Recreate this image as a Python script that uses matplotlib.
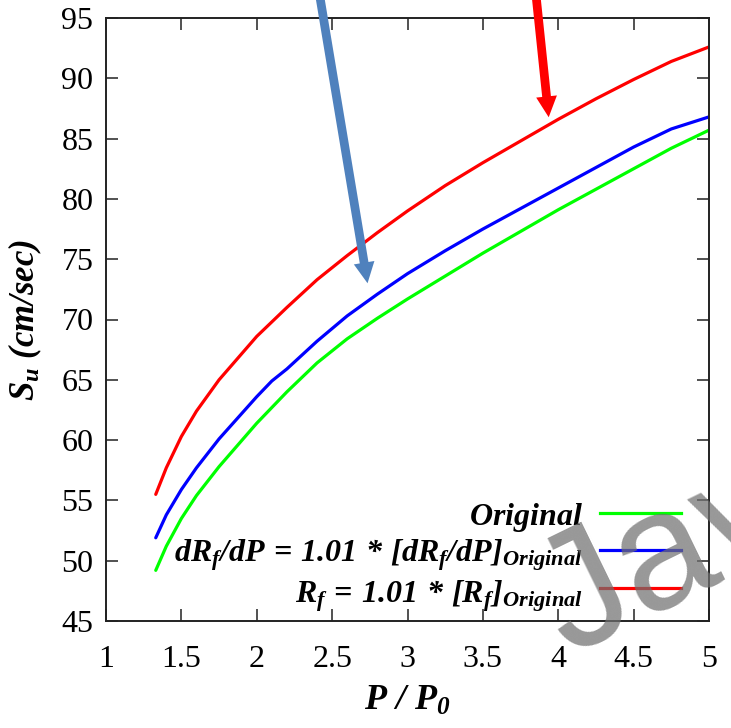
import matplotlib
matplotlib.use("Agg")
import matplotlib.pyplot as plt
from matplotlib.patches import FancyArrowPatch

# Burning velocity vs. pressure ratio
p_ratio = [1.33, 1.40, 1.50, 1.60, 1.75, 2.00, 2.10, 2.20, 2.40, 2.60, 2.80,
           3.00, 3.25, 3.50, 3.75, 4.00, 4.25, 4.50, 4.75, 5.00]

su_original = [49.2, 51.2, 53.5, 55.4, 57.8, 61.4, 62.7, 64.0, 66.4, 68.4, 70.1,
               71.7, 73.6, 75.5, 77.3, 79.1, 80.8, 82.5, 84.2, 85.7]
su_drf_dp = [51.9, 53.8, 55.9, 57.7, 60.1, 63.6, 64.9, 65.9, 68.2, 70.3, 72.1,
             73.8, 75.7, 77.5, 79.2, 80.9, 82.6, 84.3, 85.8, 86.8]
su_rf = [55.5, 57.7, 60.3, 62.4, 65.0, 68.6, 69.8, 71.0, 73.3, 75.3, 77.2,
         79.0, 81.1, 83.0, 84.8, 86.6, 88.3, 89.9, 91.4, 92.6]

x_ticks = [1, 1.5, 2, 2.5, 3, 3.5, 4, 4.5, 5]
y_ticks = [45, 50, 55, 60, 65, 70, 75, 80, 85, 90, 95]

labels = [
    r"$Original$",
    r"$dR_f/dP\,=\,1.01\,*\,[dR_f/dP]_{Original}$",
    r"$R_f\,=\,1.01\,*\,[R_f]_{Original}$",
]
colors = ["#00FF00", "#0000FF", "#FF0000"]

plt.rcParams["font.family"] = ["Liberation Serif", "DejaVu Serif"]
plt.rcParams["mathtext.fontset"] = "custom"
plt.rcParams["mathtext.rm"] = "Liberation Serif:bold:italic"
plt.rcParams["mathtext.it"] = "Liberation Serif:bold:italic"
plt.rcParams["mathtext.bf"] = "Liberation Serif:bold:italic"

fig = plt.figure(figsize=(7.31, 7.28), dpi=100)
ax = fig.add_axes([106 / 731, 1 - 621 / 728, 603 / 731, 603 / 728])

series = [su_original, su_drf_dp, su_rf]
for ys, c in zip(series, colors):
    ax.plot(p_ratio, ys, color=c, lw=2.3, solid_capstyle="round",
            solid_joinstyle="round")

ax.set_xlim(1, 5)
ax.set_ylim(45, 95)
ax.set_xticks(x_ticks)
ax.set_xticklabels([f"{t:g}" for t in x_ticks])
ax.set_yticks(y_ticks)
ax.set_yticklabels([f"{t:g}" for t in y_ticks])
ax.tick_params(direction="in", length=8.5, width=1.1, top=True, right=True,
               labelsize=23, colors="#222222", labelcolor="black")
ax.tick_params(axis="x", pad=17)
ax.tick_params(axis="y", pad=9)
for s in ax.spines.values():
    s.set_linewidth(1.4)
    s.set_color("#222222")

ax.set_xlabel(r"$P\ /\ P_0$", fontsize=26)
ax.xaxis.set_label_coords(0.5, -0.105)
ax.set_ylabel(r"$S_u\ (cm/sec)$", fontsize=25, va="center")
ax.yaxis.set_label_coords(-0.134, 0.5)

# key: right-aligned labels followed by line samples
row_line_y = [0.179, 0.118, 0.055]
row_text_y = [0.159, 0.0995, 0.0315]
for lab, c, ly, ty in zip(labels, colors, row_line_y, row_text_y):
    ax.plot([0.819, 0.954], [ly, ly], transform=ax.transAxes, color=c, lw=2.3,
            clip_on=False)
    ax.text(0.791, ty, lab, transform=ax.transAxes, ha="right", va="baseline",
            fontsize=23)

# pointer arrows
arrow_kw = dict(arrowstyle="simple,head_width=1.0,head_length=1.0,tail_width=0.42",
                mutation_scale=15, transform=fig.transFigure, lw=0)
fig.add_artist(FancyArrowPatch((318 / 731, 1.02), (368 / 731, 1 - 286 / 728),
                               color="#4F81BD", **arrow_kw))
fig.add_artist(FancyArrowPatch((535 / 731, 1.02), (549 / 731, 1 - 120 / 728),
                               color="#FF0000", **arrow_kw))

fig.text(568 / 731, 1 - 655 / 728, "Jav", fontsize=120, color="#707070",
         alpha=0.72, rotation=26, rotation_mode="anchor", ha="left",
         va="baseline", family=["Liberation Sans", "DejaVu Sans"])

fig.savefig("out.png", dpi=100)
